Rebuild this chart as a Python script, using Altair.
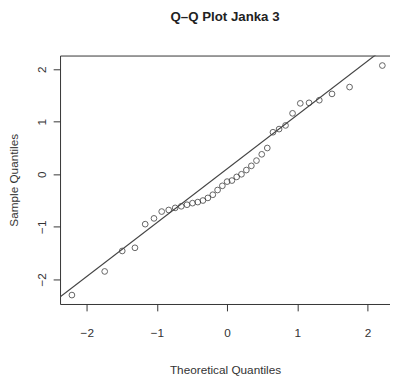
import altair as alt
import pandas as pd

# Theoretical normal quantiles (n = 37) and sample quantiles
theoretical = [-2.211, -1.744, -1.494, -1.313, -1.167, -1.042, -0.932, -0.832, -0.740,
               -0.653, -0.572, -0.493, -0.418, -0.345, -0.274, -0.204, -0.136, -0.068,
               0.000, 0.068, 0.136, 0.204, 0.274, 0.345, 0.418, 0.493, 0.572, 0.653,
               0.740, 0.832, 0.932, 1.042, 1.167, 1.313, 1.494, 1.744, 2.211]
sample = [-2.30, -1.85, -1.46, -1.40, -0.95, -0.84, -0.71, -0.68, -0.64,
          -0.61, -0.58, -0.55, -0.53, -0.50, -0.45, -0.39, -0.30, -0.22,
          -0.14, -0.12, -0.05, 0.00, 0.08, 0.16, 0.26, 0.38, 0.50, 0.80,
          0.86, 0.93, 1.16, 1.35, 1.36, 1.41, 1.53, 1.66, 2.07]

# reference line (qqline) parameters
line_intercept = 0.105
line_slope = 1.025
line_x = [-2.6, 2.6]

x_ticks = [-2, -1, 0, 1, 2]
y_ticks = [-2, -1, 0, 1, 2]

pts = pd.DataFrame({"x": theoretical, "y": sample})
ln = pd.DataFrame({"x": line_x, "y": [line_intercept + line_slope * v for v in line_x]})

FONT = "Liberation Sans"
INK = "#333333"

xs = alt.Scale(domain=[-2.38, 2.32], nice=False, zero=False)
ys = alt.Scale(domain=[-2.47, 2.26], nice=False, zero=False)

points = alt.Chart(pts).mark_point(
    shape="circle", filled=False, size=34, strokeWidth=1, color="#222222"
).encode(
    x=alt.X("x:Q", scale=xs, axis=alt.Axis(
        values=x_ticks, format="d", title="Theoretical Quantiles", grid=False,
        tickSize=7, labelPadding=17, labelFontSize=12, labelFont=FONT, labelColor=INK,
        titleFont=FONT, titleFontSize=12, titleFontWeight="normal", titleColor=INK,
        titleY=71, titleBaseline="alphabetic",
        domainColor=INK, tickColor=INK, labelFlush=False)),
    y=alt.Y("y:Q", scale=ys, axis=alt.Axis(
        values=y_ticks, format="d", title="Sample Quantiles", grid=False,
        tickSize=7, labelPadding=8, labelAngle=270, labelAlign="center",
        labelBaseline="alphabetic", labelFontSize=12, labelFont=FONT, labelColor=INK,
        titleFont=FONT, titleFontSize=12, titleFontWeight="normal", titleColor=INK,
        titleX=-43, titleBaseline="alphabetic", titleAngle=270,
        domainColor=INK, tickColor=INK, labelFlush=False)),
)

line = alt.Chart(ln).mark_line(color="#444444", strokeWidth=1.2, clip=True).encode(
    x=alt.X("x:Q", scale=xs, axis=alt.Axis(
        orient="top", labels=False, ticks=False, grid=False, title="",
        domainColor=INK)),
    y=alt.Y("y:Q", scale=ys),
)

chart = alt.layer(points, line).resolve_axis(x="independent").properties(
    width=336, height=253,
    padding={"left": 53, "top": 45, "right": 0, "bottom": 76},
    autosize=alt.AutoSizeParams(type="none"),
    title=alt.Title("Q\u2013Q Plot Janka 3", font=FONT, fontSize=13.5, fontWeight="bold",
                    color="#222222", offset=33, anchor="middle"),
).configure_view(strokeWidth=0)

chart.save("out.html", embed_options={"renderer": "svg", "actions": False})
